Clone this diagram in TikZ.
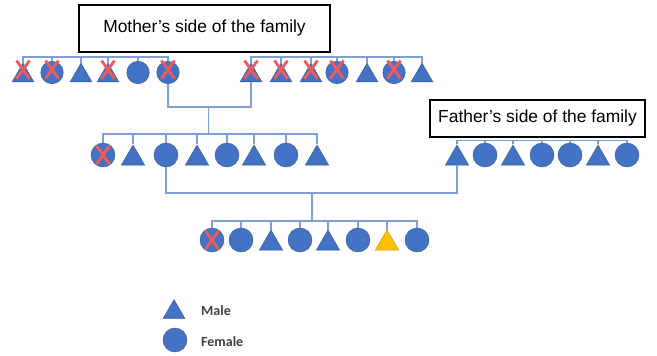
\documentclass[tikz,border=0pt]{standalone}
\usepackage{fontspec}
\setmainfont{Liberation Sans}
\newfontfamily\legendfont{Carlito}
\usetikzlibrary{shapes.geometric}
\definecolor{fillblue}{HTML}{4472C4}
\definecolor{edgeblue}{HTML}{2F528F}
\definecolor{linkblue}{HTML}{7F9FD6}
\definecolor{xred}{HTML}{F25A5A}
\definecolor{goldfill}{HTML}{FFC000}
\definecolor{goldedge}{HTML}{BF9000}
\definecolor{legtext}{HTML}{404040}
\newcommand{\redx}[2]{%
  \draw[xmark] ([shift={(-6.5,#2-9)}]#1.center) -- ([shift={(6.5,#2+9)}]#1.center)
               ([shift={(6.5,#2-9)}]#1.center) -- ([shift={(-6.5,#2+9)}]#1.center);}
\begin{document}
\begin{tikzpicture}[x=1pt,y=-1pt,
  tri/.style={regular polygon, regular polygon sides=3, minimum size=27pt, inner sep=0pt,
              fill=fillblue, draw=edgeblue, line width=0.4pt, yshift=-3.4pt},
  tris/.style={tri, minimum size=25pt, yshift=0.3pt},
  trigold/.style={tri, fill=goldfill, draw=goldedge},
  cir/.style={circle, minimum size=24pt, inner sep=0pt, fill=fillblue, draw=edgeblue, line width=0.4pt},
  cirs/.style={cir, minimum size=22.5pt},
  conn/.style={draw=linkblue, line width=1.3pt},
  xmark/.style={draw=xred, line width=2.8pt},
  labelbox/.style={draw=black, line width=1.2pt, inner sep=0pt, font=\fontsize{17.4}{20}\selectfont},
  legtxt/.style={anchor=west, inner sep=0pt, text=legtext, font=\legendfont\bfseries\fontsize{14}{16}\selectfont}
]
\useasboundingbox (0,0) rectangle (657,356);

% title boxes
\node[labelbox, minimum width=251pt, minimum height=47pt] (mbox) at (204.5,28.5) {Mother’s side of the family};
\node[labelbox, minimum width=215pt, minimum height=37pt] (fbox) at (537.5,118.5) {Father’s side of the family};

% top row, left group
\foreach \x/\k/\c/\d [count=\i] in {23/tris/1/-6, 52/cirs/1/-3, 81/tris/0/0, 108/tris/1/-6, 138/cirs/0/0, 168/cirs/1/-3}{
  \node[\k] (tl\i) at (\x,72.5) {};
  \ifnum\c=1 \redx{tl\i}{\d}\fi
}
% top row, right group
\foreach \x/\k/\c/\d [count=\i] in {251/tris/1/-6, 281/tris/1/-6, 311/tris/1/-6, 337/cirs/1/-3, 367/tris/0/0, 394/cirs/1/-3, 422/tris/0/0}{
  \node[\k] (tr\i) at (\x,72.5) {};
  \ifnum\c=1 \redx{tr\i}{\d}\fi
}
% middle row (mother and siblings)
\foreach \x/\k/\c [count=\i] in {103/cir/1, 133/tri/0, 166/cir/0, 197/tri/0, 227/cir/0, 254/tri/0, 286/cir/0, 317/tri/0}{
  \node[\k] (m\i) at (\x,155) {};
  \ifnum\c=1 \redx{m\i}{0}\fi
}
% father's side
\foreach \x/\k [count=\i] in {457/tri, 485/cir, 513/tri, 542/cir, 570/cir, 598/tri, 627/cir}{
  \node[\k] (fa\i) at (\x,155) {};
}
% bottom row (children)
\foreach \x/\k/\c [count=\i] in {212/cir/1, 241/cir/0, 271/tri/0, 300/cir/0, 328/tri/0, 358/cir/0, 387/trigold/0, 417/cir/0}{
  \node[\k] (b\i) at (\x,240) {};
  \ifnum\c=1 \redx{b\i}{0}\fi
}

% legend
\node[tri, minimum size=25pt, yshift=0.3pt] (legm) at (174,309) {};
\node[cir] (legf) at (175,340) {};
\node[legtxt] (legmt) at (201,311) {Male};
\node[legtxt] (legft) at (201,342) {Female};

% connector levels
\coordinate (ya) at (0,57);
\coordinate (yb) at (0,107);
\coordinate (yc) at (0,134);
\coordinate (yd) at (0,193);
\coordinate (ye) at (0,221);
\coordinate (yf) at (0,140.5);
\coordinate (d1) at (208.5,107);
\coordinate (d2) at (312,193);

% top sibling lines
\draw[conn] (tl1.north) -- (tl1.north |- ya) -- (tl6.north |- ya) -- (tl6.north);
\foreach \i in {2,...,5} \draw[conn] (tl\i.north) -- (tl\i.north |- ya);
\draw[conn] (tr1.north) -- (tr1.north |- ya) -- (tr7.north |- ya) -- (tr7.north);
\foreach \i in {2,...,6} \draw[conn] (tr\i.north) -- (tr\i.north |- ya);

% grandparents joined, descent to mother's generation
\draw[conn] (tl6.south) -- (tl6.south |- yb) -- (tr1.south |- yb) -- (tr1.south);
\draw[conn] (d1) -- (d1 |- yc);
\draw[conn] (m1.north) -- (m1.north |- yc) -- (m8.north |- yc) -- (m8.north);
\foreach \i in {2,...,7} \draw[conn] (m\i.north) -- (m\i.north |- yc);

% father's siblings
\draw[conn] (fa1.north) -- (fa1.north |- yf) -- (fa7.north |- yf) -- (fa7.north);
\foreach \i in {2,...,6} \draw[conn] (fa\i.north) -- (fa\i.north |- yf);

% parents joined, descent to children
\draw[conn] (m3.south) -- (m3.south |- yd) -- (fa1.south |- yd) -- (fa1.south);
\draw[conn] (d2) -- (d2 |- ye);
\draw[conn] (b1.north) -- (b1.north |- ye) -- (b8.north |- ye) -- (b8.north);
\foreach \i in {2,...,7} \draw[conn] (b\i.north) -- (b\i.north |- ye);
\end{tikzpicture}
\end{document}
